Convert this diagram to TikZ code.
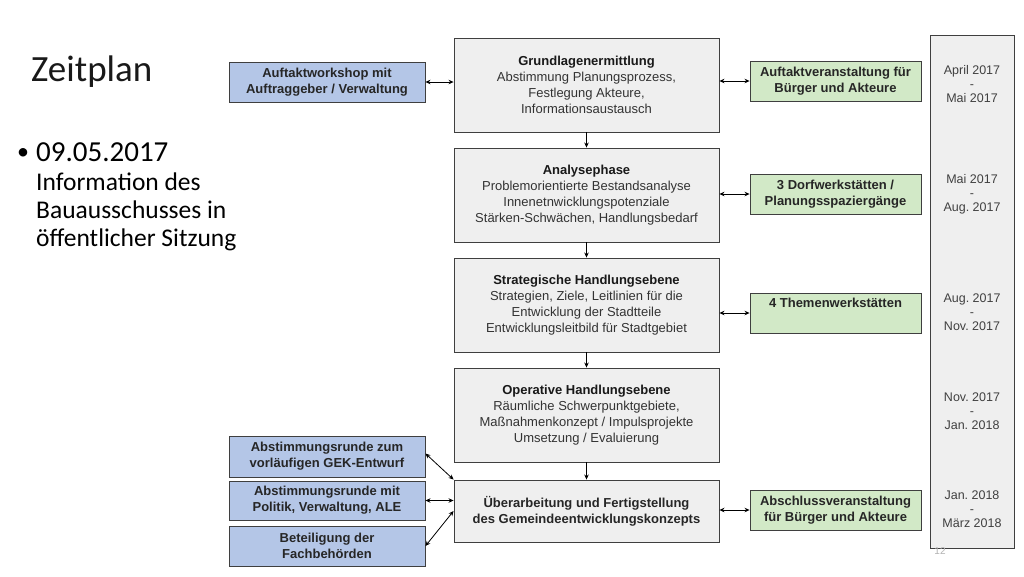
\documentclass[tikz,border=0pt]{standalone}
\usepackage{fontspec}
\setmainfont{Liberation Sans}
\newfontfamily\calfont{Carlito}
\usetikzlibrary{arrows.meta,calc}
\definecolor{bluefill}{HTML}{B4C6E7}
\definecolor{greenfill}{HTML}{D2E9C7}
\definecolor{grayfill}{HTML}{EFEFEF}
\definecolor{bordercol}{HTML}{3F3F3F}
\definecolor{txtgray}{HTML}{333333}
\definecolor{dategray}{HTML}{404040}
\tikzset{
  box/.style={draw=bordercol, line width=0.9pt, align=center, inner sep=2pt,
    font=\fontsize{13}{16}\selectfont, text=txtgray},
  phase/.style={box, fill=grayfill, minimum width=265pt},
  bluebox/.style={box, fill=bluefill, minimum width=196pt, font=\fontsize{13}{16}\selectfont\bfseries, text=black!85},
  greenbox/.style={box, fill=greenfill, minimum width=171pt, minimum height=40pt, font=\fontsize{13}{16}\selectfont\bfseries, text=black!85},
  datetxt/.style={align=center, font=\fontsize{12.5}{14}\selectfont, text=dategray},
  lefttxt/.style={anchor=base west, inner sep=0, font=\calfont\fontsize{25.5}{28}\selectfont},
  arr/.style={line width=0.8pt, -{Stealth[length=5pt,width=4.5pt]}},
  darr/.style={line width=0.8pt, {Stealth[length=5pt,width=4.5pt]}-{Stealth[length=5pt,width=4.5pt]}},
}
\begin{document}
\frenchspacing
\begin{tikzpicture}[x=1pt,y=-1pt]
\useasboundingbox (0,0) rectangle (1024,576);
\fill[white] (0,0) rectangle (1024,576);

% left text
\node[anchor=base west, inner sep=0, font=\calfont\fontsize{37}{40}\selectfont, text=black!90] (title) at (31,81) {Zeitplan};
\node[anchor=base west, inner sep=0, font=\calfont\fontsize{24}{24}\selectfont] (bul) at (17,159) {•};
\node[anchor=base west, inner sep=0, font=\calfont\fontsize{29}{29}\selectfont] (date) at (36,161) {09.05.2017};
\node[lefttxt] (info1) at (36,190) {Information des};
\node[lefttxt] (info2) at (36,218) {Bauausschusses in};
\node[lefttxt] (info3) at (36,246) {öffentlicher Sitzung};

% timeline column
\node[draw=bordercol, line width=0.9pt, fill=grayfill, minimum width=84pt, minimum height=513pt, inner sep=0] (tl) at (972,291.5) {};
\node[datetxt] (d1) at (972,84) {April 2017\\-\\Mai 2017};
\node[datetxt] (d2) at (972,194) {Mai 2017\\-\\Aug. 2017};
\node[datetxt] (d3) at (972,312) {Aug. 2017\\-\\Nov. 2017};
\node[datetxt] (d4) at (972,411) {Nov. 2017\\-\\Jan. 2018};
\node[datetxt] (d5) at (972,509) {Jan. 2018\\-\\März 2018};
\node[font=\fontsize{10}{10}\selectfont, text=black!30, inner sep=0] (pn) at (940,551) {12};

% central phases
\node[phase, minimum height=94pt] (c1) at (586.5,85) {\textbf{\color{black!90}Grundlagenermittlung}\\Abstimmung Planungsprozess,\\Festlegung Akteure,\\Informationsaustausch};
\node[phase, minimum height=94pt] (c2) at (586.5,195) {\textbf{\color{black!90}Analysephase}\\Problemorientierte Bestandsanalyse\\Innenetnwicklungspotenziale\\Stärken-Schwächen, Handlungsbedarf};
\node[phase, minimum height=94pt] (c3) at (586.5,305) {\textbf{\color{black!90}Strategische Handlungsebene}\\Strategien, Ziele, Leitlinien für die\\Entwicklung der Stadtteile\\Entwicklungsleitbild für Stadtgebiet};
\node[phase, minimum height=94pt] (c4) at (586.5,415) {\textbf{\color{black!90}Operative Handlungsebene}\\Räumliche Schwerpunktgebiete,\\Maßnahmenkonzept / Impulsprojekte\\Umsetzung / Evaluierung};
\node[phase, minimum height=62pt, font=\fontsize{13}{16}\selectfont\bfseries, text=black!85] (c5) at (586.5,511) {Überarbeitung und Fertigstellung\\des Gemeindeentwicklungskonzepts};

% left blue boxes
\node[bluebox, minimum height=40pt] (lb1) at (327,82) {Auftaktworkshop mit\\Auftraggeber / Verwaltung};
\node[bluebox, minimum height=41pt] (bb1) at (327,456.5) {Abstimmungsrunde zum\\vorläufigen GEK-Entwurf};
\node[bluebox, minimum height=39pt] (bb2) at (327,500.5) {Abstimmungsrunde mit\\Politik, Verwaltung, ALE};
\node[bluebox, minimum height=40pt] (bb3) at (327,546) {Beteiligung der\\Fachbehörden};

% green boxes
\node[greenbox] (g1) at (835.5,81) {Auftaktveranstaltung für\\Bürger und Akteure};
\node[greenbox] (g2) at (835.5,194) {3 Dorfwerkstätten /\\Planungsspaziergänge};
\node[greenbox] (g3) at (835.5,313) {4 Themenwerkstätten\\\strut};
\node[greenbox] (g4) at (835.5,510) {Abschlussveranstaltung\\für Bürger und Akteure};

% vertical arrows
\draw[arr] (c1) -- (c2);
\draw[arr] (c2) -- (c3);
\draw[arr] (c3) -- (c4);
\draw[arr] (c4) -- (c5);

% left arrows
\draw[darr] (lb1.east) -- (lb1.east -| c1.west);
\draw[darr] ($(bb1.east)+(0,-3)$) -- (c5.north west);
\draw[darr] (bb2.east) -- (bb2.east -| c5.west);
\draw[darr] (bb3.east) -- (c5.west);

% right arrows
\draw[darr] (g1.west -| c1.east) -- (g1.west);
\draw[darr] (g2.west -| c2.east) -- (g2.west);
\draw[darr] (g3.west -| c3.east) -- (g3.west);
\draw[darr] (g4.west -| c5.east) -- (g4.west);
\end{tikzpicture}
\end{document}
